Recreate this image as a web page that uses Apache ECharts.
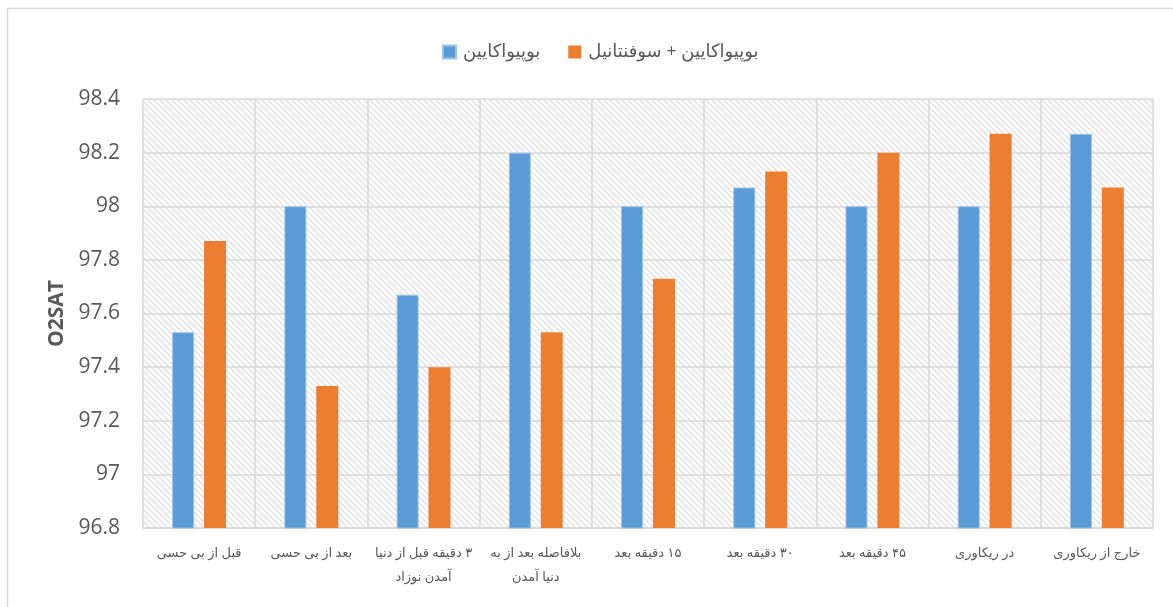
<!DOCTYPE html>
<html><head><meta charset="utf-8">
<script src="https://cdn.jsdelivr.net/npm/echarts@6/dist/echarts.min.js"></script>
<style>html,body{margin:0;padding:0;background:#fff}#c{width:1173px;height:607px}</style>
</head><body><div id="c"></div>
<script>
const categories = ["قبل از بی حسی","بعد از بی حسی","۳ دقیقه قبل از دنیا\nآمدن نوزاد","بلافاصله بعد از به\nدنیا آمدن","۱۵ دقیقه بعد","۳۰ دقیقه بعد","۴۵ دقیقه بعد","در ریکاوری","خارج از ریکاوری"];
const seriesNames = ["بوپیواکایین","بوپیواکایین + سوفنتانیل"];
const bupivacaine = [97.53, 98.0, 97.67, 98.2, 98.0, 98.07, 98.0, 98.0, 98.27];
const bupiSufentanil = [97.87, 97.33, 97.4, 97.53, 97.73, 98.13, 98.2, 98.27, 98.07];
const yTicks = [96.8, 97, 97.2, 97.4, 97.6, 97.8, 98, 98.2, 98.4];

const pc = document.createElement('canvas');
pc.width = 6; pc.height = 6;
const g = pc.getContext('2d');
g.fillStyle = '#ffffff'; g.fillRect(0,0,6,6);
g.strokeStyle = '#e0e0e0'; g.lineWidth = 1.3;
g.beginPath();
g.moveTo(-1,-1); g.lineTo(7,7);
g.moveTo(-4,2); g.lineTo(4,10);
g.moveTo(2,-4); g.lineTo(10,4);
g.stroke();

const rtl = s => s.split('\n').map(l => '\u202B' + l + '\u202C').join('\n');
const font = '"Open Sans","DejaVu Sans",sans-serif';
const chart = echarts.init(document.getElementById('c'), null, {renderer:'canvas'});
chart.setOption({
  animation:false,
  textStyle:{fontFamily:font},
  graphic:[{type:'rect',shape:{x:7.5,y:8.5,width:1180,height:620},style:{fill:'none',stroke:'#d9d9d9',lineWidth:1.5},z:-1}],
  legend:{top:38,left:437,itemWidth:13,itemHeight:13,itemGap:28,icon:'rect',
    formatter:n=>rtl(n),
    textStyle:{fontSize:18,color:'#595959',fontFamily:font,padding:[0,0,0,2]},data:seriesNames},
  grid:{left:143,right:20,top:99,bottom:79,show:true,backgroundColor:{image:pc,repeat:'repeat'},borderWidth:0},
  xAxis:{type:'category',data:categories,
    axisLine:{show:true,lineStyle:{color:'#d9d9d9',width:1.5}},axisTick:{show:false},
    splitLine:{show:true,lineStyle:{color:'#d9d9d9',width:1.5}},
    axisLabel:{interval:0,fontSize:13,color:'#595959',lineHeight:24,margin:13,fontFamily:font,
      formatter:v=>rtl(v)}},
  yAxis:{type:'value',min:yTicks[0],max:yTicks[yTicks.length-1],interval:0.2,
    name:'O2SAT',nameLocation:'middle',nameGap:72,nameRotate:90,
    nameTextStyle:{fontSize:21,fontWeight:'bold',color:'#595959',fontFamily:font},
    axisLine:{show:false},axisTick:{show:false},
    splitLine:{lineStyle:{color:'#d9d9d9',width:1.5}},
    axisLabel:{fontSize:21,color:'#595959',margin:23,fontFamily:font,
      formatter:v=>String(parseFloat(v.toFixed(1)))}},
  series:[
    {name:seriesNames[0],type:'bar',data:bupivacaine,barWidth:22,barGap:'45%',
      itemStyle:{color:'#5B9BD5',borderColor:'#9cc3e8',borderWidth:1}},
    {name:seriesNames[1],type:'bar',data:bupiSufentanil,barWidth:22,barGap:'45%',
      itemStyle:{color:'#ED7D31'}}
  ]
});
</script></body></html>
